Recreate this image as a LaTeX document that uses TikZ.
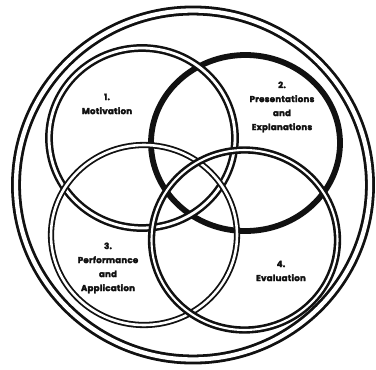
\documentclass[tikz,border=0pt]{standalone}
\usepackage{fontspec}
\newfontfamily\labelfont[LetterSpace=3,BoldFeatures={FakeBold=3}]{Poppins}
\usepackage{xcolor}
\definecolor{ink}{HTML}{111111}
\usetikzlibrary{positioning}

\begin{document}
\begin{tikzpicture}[x=1pt,y=-1pt,
  ring/.style={ink,double=white},
  phase/.style={font=\labelfont\bfseries\fontsize{8.6}{14}\selectfont,align=center,inner sep=0pt,text=ink}]
\useasboundingbox (0,0) rectangle (376,370);

% Outer double ring
\draw[ring,line width=2.8pt,double distance=4.3pt] (193,185) ellipse [x radius=177, y radius=174.5];

% Phase 2 -- heavy single ring
\draw[ink,line width=5.8pt] (245.5,143) ellipse [x radius=94.5, y radius=88];

% Phases 1, 3, 4 -- double rings
\foreach \cx/\cy/\lw/\dd in {142/138/2.5/2.8, 144/235/1.8/2.6, 244.5/240/2.6/2.1} {
  \draw[ring,line width=\lw pt,double distance=\dd pt] (\cx,\cy) ellipse [x radius=93, y radius=90];
}

% Labels
\node[phase] (motivation) at (107,104) {1.\\Motivation};
\node[phase] (presentation) at (282,107) {2.\\Presentations\\and\\Explanations};
\node[phase] (performance) at (108,268) {3.\\Performance\\and\\Application};
\node[phase] (evaluation) at (281,271) {4.\\Evaluation};

\end{tikzpicture}
\end{document}
